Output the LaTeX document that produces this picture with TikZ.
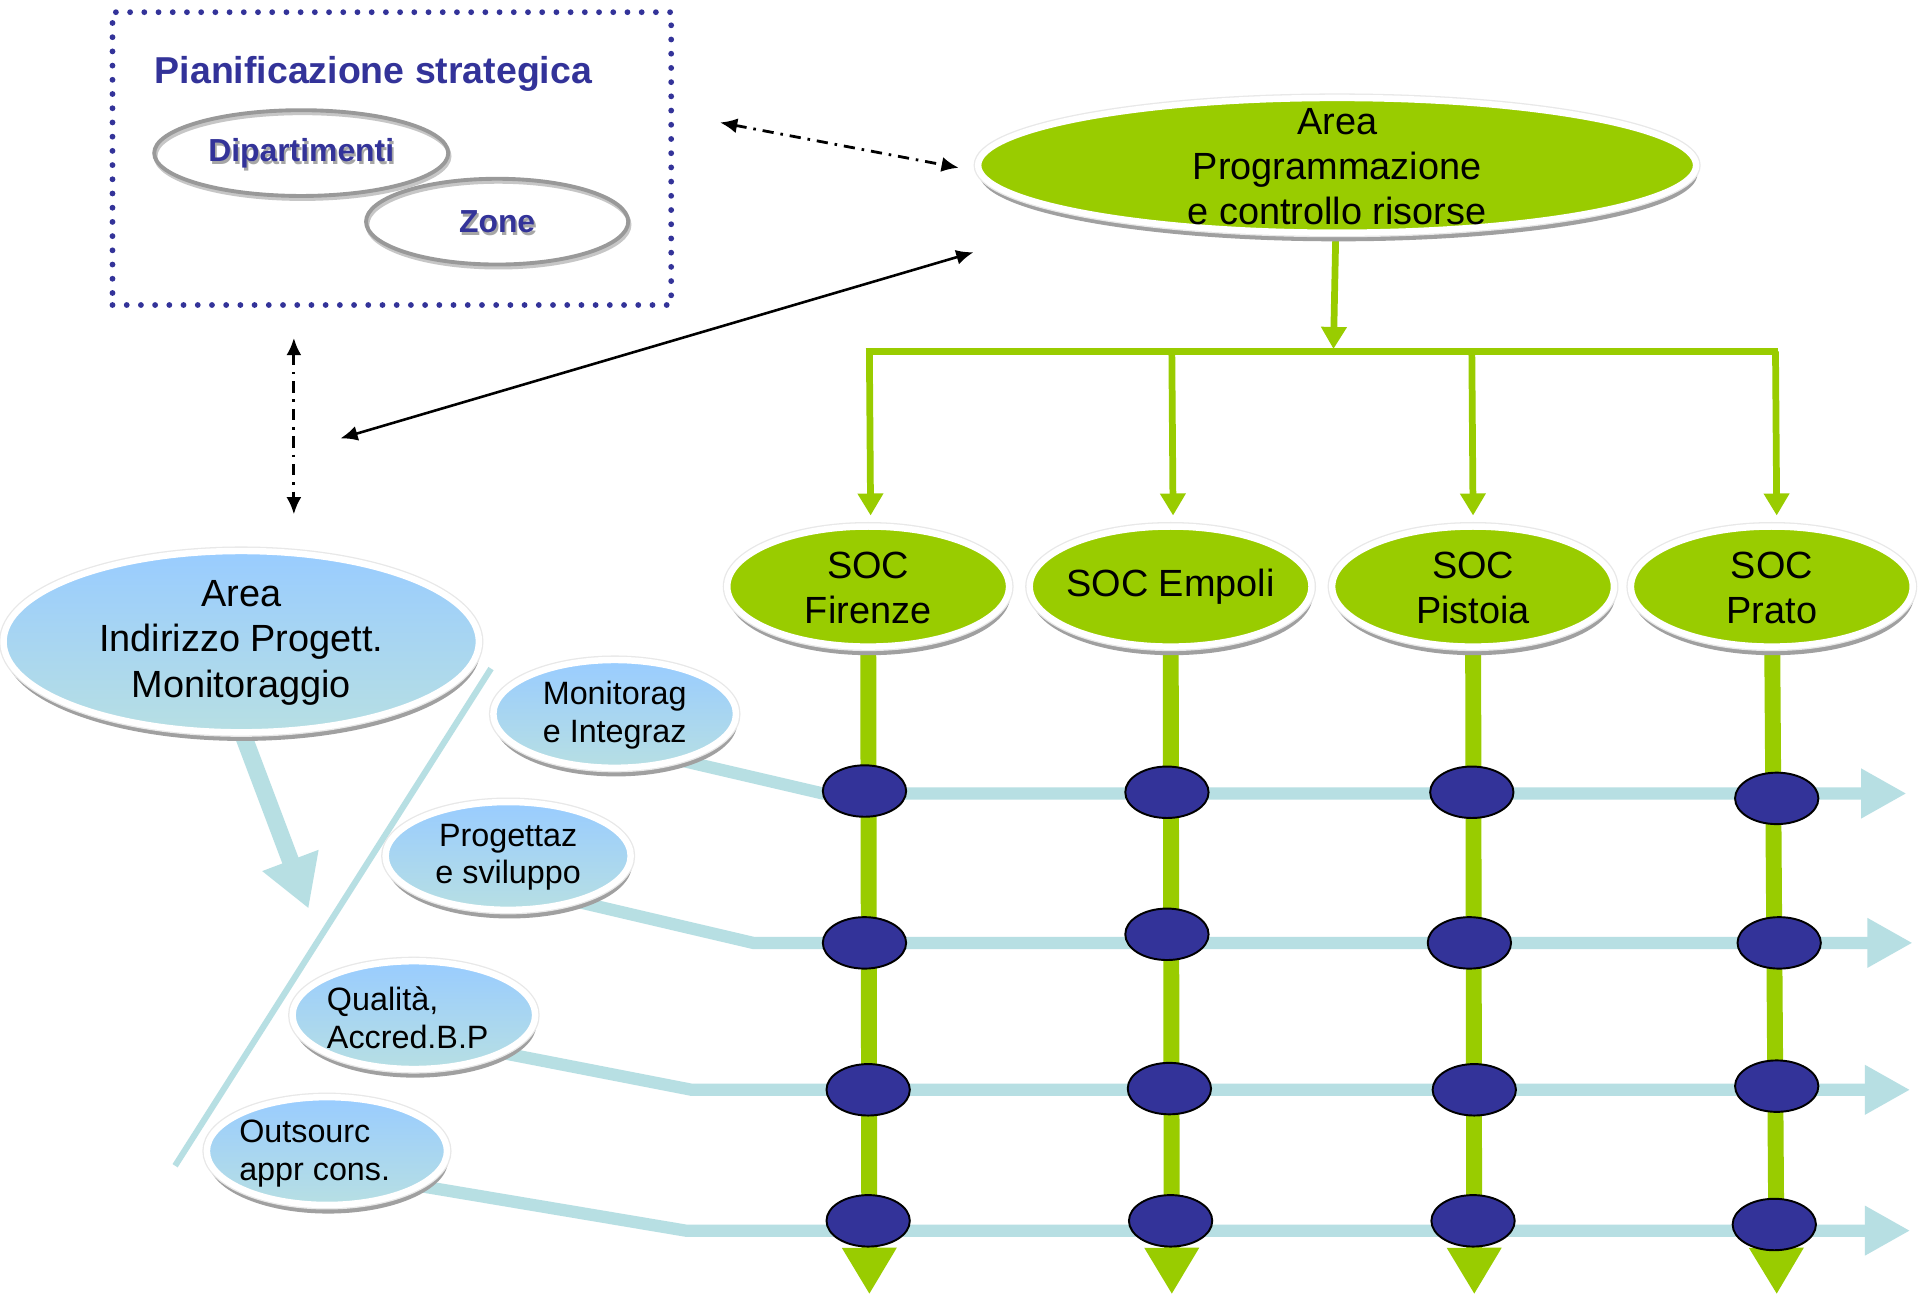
\documentclass[tikz,border=0pt]{standalone}
\usepackage{fontspec}
\setmainfont{Liberation Sans}
\usetikzlibrary{shapes.geometric,arrows.meta,shadows}
\definecolor{grn}{HTML}{99CC00}
\definecolor{dblue}{HTML}{333399}
\definecolor{lblue}{HTML}{B7DFE3}
\definecolor{sky}{HTML}{99CCFF}
\definecolor{shgray}{HTML}{A0A0A0}
\pgfdeclarelayer{bgzero}
\pgfdeclarelayer{bgone}
\pgfsetlayers{bgzero,bgone,main}
\tikzset{
  rimell/.style={ellipse, inner sep=0pt,
    drop shadow={shadow xshift=0.3pt, shadow yshift=-2pt, opacity=1, fill=shgray},
    preaction={draw=gray!18, line width=2.1pt},
    draw=white, line width=1.5pt},
  greenell/.style={rimell, fill=grn},
  blueell/.style={rimell, top color=sky, bottom color=lblue},
  oval/.style={ellipse, inner sep=0pt, fill=dblue, draw=black, line width=0.45pt,
    minimum width=0.68cm, minimum height=0.42cm},
  bigtxt/.style={align=center, inner sep=0pt, font=\fontsize{8.8}{10.5}\selectfont},
  smalltxt/.style={align=center, inner sep=0pt, font=\fontsize{7.5}{8.7}\selectfont},
  smalltxtl/.style={align=left, inner sep=0pt, font=\fontsize{7.5}{8.7}\selectfont},
  dotbox/.style={draw=dblue, line width=1.35pt, dash pattern=on 0pt off 3.3pt, line cap=round, inner sep=0pt},
  titletxt/.style={inner sep=0pt, text=dblue, font=\bfseries\fontsize{8.7}{10}\selectfont},
  ringell/.style={ellipse, inner sep=0pt, draw=gray!80, line width=0.9pt,
    preaction={draw=gray!45, line width=0.9pt, transform canvas={xshift=0.3pt, yshift=-0.7pt}}},
  ringtxt/.style={inner sep=0pt, text=dblue, font=\bfseries\fontsize{7.4}{9}\selectfont},
  ringsh/.style={inner sep=0pt, text=gray!70, font=\bfseries\fontsize{7.4}{9}\selectfont},
  dashdotarr/.style={black, line width=0.65pt, dash pattern=on 2.6pt off 1.6pt on 0.6pt off 1.6pt,
    {Latex[length=4pt,width=3.5pt]}-{Latex[length=4pt,width=3.5pt]}},
  solidarr/.style={black, line width=0.6pt, {Latex[length=4pt,width=3.5pt]}-{Latex[length=4pt,width=3.5pt]}},
  greenthin/.style={grn, line width=0.055cm},
  greendrop/.style={grn, line width=0.055cm, -{Triangle[width=0.2cm,length=0.18cm]}},
  greenthick/.style={grn, line width=0.13cm, -{Triangle[width=0.42cm,length=0.38cm]}},
  bluerow/.style={lblue, line width=0.10cm, line join=miter, -{Triangle[width=0.38cm,length=0.37cm]}},
  bluethick/.style={lblue, line width=0.14cm, -{Triangle[width=0.46cm,length=0.42cm]}},
  bluethin/.style={lblue, line width=0.05cm}
}
\begin{document}
\begin{tikzpicture}[x=0.01cm,y=-0.01cm]
\useasboundingbox (0,0) rectangle (1568,1059);
\begin{pgfonlayer}{bgzero}
  \fill[white] (0,0) rectangle (1568,1059);
\end{pgfonlayer}

% ---------- planning box ----------
\node[dotbox, minimum width=4.56cm, minimum height=2.39cm] (plan) at (320,129.5) {};
\node[titletxt] (plant) at (305,60) {Pianificazione strategica};
\node[ringell, minimum width=2.40cm, minimum height=0.70cm] (dip) at (246,125) {};
\node[ringell, minimum width=2.14cm, minimum height=0.70cm] (zone) at (406,181) {};
\node[ringsh] (dipsh) at (247.5,127.5) {Dipartimenti};
\node[ringtxt] (dipt) at (246,125) {Dipartimenti};
\node[ringsh] (zonesh) at (407.5,183.5) {Zone};
\node[ringtxt] (zonet) at (406,181) {Zone};

% ---------- green top ----------
\node[greenell, minimum width=5.86cm, minimum height=1.10cm] (prog) at (1092,135) {};
\node[bigtxt] (progt) at (1092,136) {Area\\Programmazione\\e controllo risorse};

% ---------- SOC ----------
\node[greenell, minimum width=2.30cm, minimum height=0.98cm] (socF) at (709,479) {};
\node[greenell, minimum width=2.30cm, minimum height=0.98cm] (socE) at (956,479) {};
\node[greenell, minimum width=2.30cm, minimum height=0.98cm] (socP) at (1203,479) {};
\node[greenell, minimum width=2.30cm, minimum height=0.98cm] (socR) at (1447,479) {};
\node[bigtxt] (socFt) at (709,480) {SOC\\Firenze};
\node[bigtxt] (socEt) at (956,479) {SOC Empoli};
\node[bigtxt] (socPt) at (1203,480) {SOC\\Pistoia};
\node[bigtxt] (socRt) at (1447,480) {SOC\\Prato};

% ---------- blue area ----------
\node[blueell, minimum width=3.88cm, minimum height=1.48cm] (aim) at (197,524) {};
\node[bigtxt] (aimt) at (197,525) {Area\\Indirizzo Progett.\\Monitoraggio};

\node[blueell, minimum width=1.98cm, minimum height=0.88cm] (mon) at (502,583) {};
\node[smalltxt] (mont) at (502,584) {Monitorag\\e Integraz};
\node[blueell, minimum width=2.00cm, minimum height=0.88cm] (pro) at (415,699) {};
\node[smalltxt] (prot) at (415,700) {Progettaz\\e sviluppo};
\node[blueell, minimum width=1.98cm, minimum height=0.88cm] (qua) at (338,829) {};
\node[smalltxtl] (quat) at (333,831) {Qualità,\\Accred.B.P};
\node[blueell, minimum width=1.96cm, minimum height=0.88cm] (out) at (267,940) {};
\node[smalltxtl] (outt) at (257,942) {Outsourc\\appr cons.};

% ---------- intersection ovals ----------
\node[oval] (o11) at (706,646) {};
\node[oval] (o12) at (953,647) {};
\node[oval] (o13) at (1202,647) {};
\node[oval] (o14) at (1451,652) {};
\node[oval] (o21) at (706,770) {};
\node[oval] (o22) at (953,763) {};
\node[oval] (o23) at (1200,770) {};
\node[oval] (o24) at (1453,770) {};
\node[oval] (o31) at (709,890) {};
\node[oval] (o32) at (955,889) {};
\node[oval] (o33) at (1204,890) {};
\node[oval] (o34) at (1451,887) {};
\node[oval] (o41) at (709,997) {};
\node[oval] (o42) at (956,997) {};
\node[oval] (o43) at (1203,997) {};
\node[oval] (o44) at (1449,1000) {};

% ---------- coordinates ----------
\coordinate (barL) at (707,287);
\coordinate (barR) at (1452,287);
\coordinate (barM) at (1089,285);
\coordinate (dF) at (710,287);
\coordinate (dE) at (957,287);
\coordinate (dP) at (1202,287);
\coordinate (dR) at (1450,287);
\coordinate (tF) at (711,421);
\coordinate (tE) at (958,421);
\coordinate (tP) at (1203,421);
\coordinate (tR) at (1451,421);
\coordinate (eF) at (710,1057);
\coordinate (eE) at (957,1057);
\coordinate (eP) at (1204,1057);
\coordinate (eR) at (1451,1057);
\coordinate (r1s) at (526,614);
\coordinate (r1a) at (672,648);
\coordinate (r1e) at (1557,648);
\coordinate (r2s) at (440,729);
\coordinate (r2a) at (615,770);
\coordinate (r2e) at (1562,770);
\coordinate (r3s) at (380,854);
\coordinate (r3a) at (565,890);
\coordinate (r3e) at (1560,890);
\coordinate (r4s) at (310,963);
\coordinate (r4a) at (560,1005);
\coordinate (r4e) at (1560,1005);
\coordinate (aimS) at (172,530);
\coordinate (aimE) at (252,742);
\coordinate (tlA) at (401,546);
\coordinate (tlB) at (143,952);
\coordinate (pA) at (588,100);
\coordinate (pB) at (783,137);
\coordinate (sA) at (795,206);
\coordinate (sB) at (278,358);
\coordinate (vA) at (240,276);
\coordinate (vB) at (240,420);

% ---------- connectors ----------
\begin{pgfonlayer}{bgone}
  \draw[greenthin] (barL) -- (barR);
  \draw[greendrop] (prog.center) -- (barM);
  \draw[greendrop] (dF) -- (tF);
  \draw[greendrop] (dE) -- (tE);
  \draw[greendrop] (dP) -- (tP);
  \draw[greendrop] (dR) -- (tR);
  \draw[greenthick] (socF.center) -- (eF);
  \draw[greenthick] (socE.center) -- (eE);
  \draw[greenthick] (socP.center) -- (eP);
  \draw[greenthick] (socR.center) -- (eR);
  \draw[bluerow] (r1s) -- (r1a) -- (r1e);
  \draw[bluerow] (r2s) -- (r2a) -- (r2e);
  \draw[bluerow] (r3s) -- (r3a) -- (r3e);
  \draw[bluerow] (r4s) -- (r4a) -- (r4e);
  \draw[bluethick] (aimS) -- (aimE);
  \draw[bluethin] (tlA) -- (tlB);
\end{pgfonlayer}
\draw[dashdotarr] (pA) -- (pB);
\draw[solidarr] (sA) -- (sB);
\draw[dashdotarr] (vA) -- (vB);
\end{tikzpicture}
\end{document}
